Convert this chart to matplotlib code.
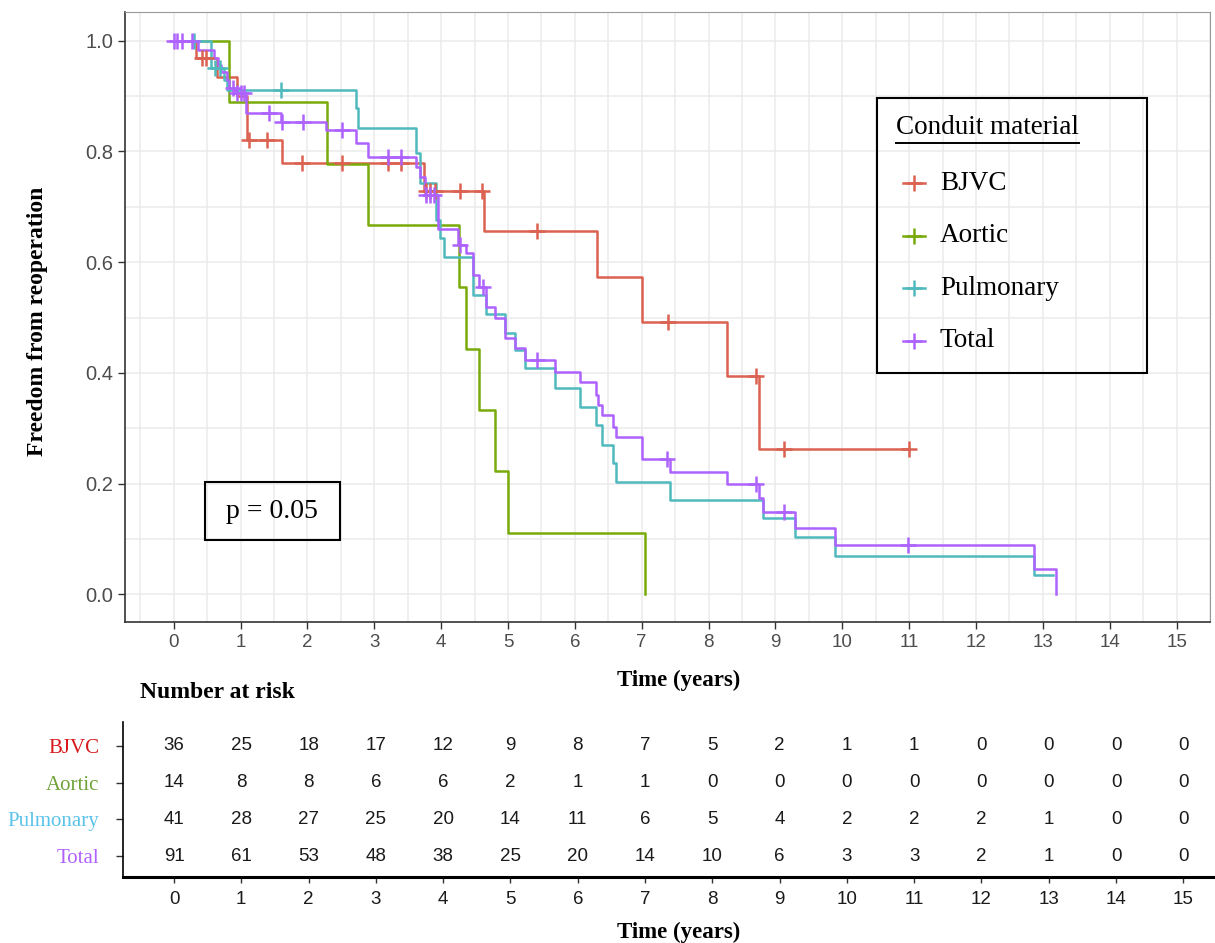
import matplotlib
matplotlib.use("Agg")
import matplotlib.pyplot as plt
import numpy as np
from matplotlib.lines import Line2D
from matplotlib.patches import Rectangle

W, H = 1215, 943

# ---- Kaplan-Meier curves (step times / survival after each step) ----
bjvc_t = [0, 0.34, 0.65, 0.95, 1.1, 1.62, 3.75, 4.64, 6.33, 7.0, 8.28, 8.76]
bjvc_s = [1.0, 0.969, 0.935, 0.90, 0.82, 0.78, 0.729, 0.656, 0.574, 0.492, 0.394, 0.263]
bjvc_end = 11.0
bjvc_cens = [0.42, 0.49, 1.13, 1.4, 1.92, 2.51, 3.21, 3.4, 3.78, 3.84, 3.91, 4.28,
             4.61, 5.44, 7.39, 8.71, 9.13, 11.0]

aortic_t = [0, 0.83, 2.3, 2.9, 4.27, 4.37, 4.56, 4.8, 5.0, 7.05]
aortic_s = [1.0, 0.889, 0.778, 0.667, 0.556, 0.444, 0.333, 0.222, 0.111, 0.0]
aortic_end = 7.05
aortic_cens = []

pulm_t = [0, 0.56, 0.75, 0.8, 2.72, 2.76, 3.63, 3.69, 3.93, 3.98, 4.05, 4.47, 4.67,
          4.95, 5.11, 5.25, 5.71, 6.08, 6.31, 6.4, 6.57, 6.62, 7.42, 8.81, 9.3, 9.89, 12.87]
pulm_s = [1.0, 0.95, 0.93, 0.911, 0.879, 0.843, 0.797, 0.743, 0.676, 0.644, 0.609, 0.541,
          0.506, 0.472, 0.441, 0.408, 0.372, 0.338, 0.306, 0.27, 0.237, 0.203, 0.17,
          0.137, 0.103, 0.069, 0.035]
pulm_end = 13.15
pulm_cens = [0.31, 0.62, 0.7, 1.6]

total_t = [0, 0.36, 0.61, 0.66, 0.71, 0.79, 0.83, 0.92, 1.08, 1.6, 2.28, 2.72, 2.91,
           3.63, 3.69, 3.76, 3.95, 4.25, 4.37, 4.47, 4.57, 4.67, 4.8, 4.95, 5.11, 5.25,
           5.71, 6.08, 6.31, 6.35, 6.4, 6.57, 6.62, 7.0, 7.42, 8.28, 8.76, 8.81, 9.3,
           9.89, 12.87, 13.2]
total_s = [1.0, 0.984, 0.969, 0.957, 0.944, 0.929, 0.915, 0.906, 0.87, 0.853, 0.839,
           0.815, 0.79, 0.772, 0.754, 0.722, 0.66, 0.631, 0.617, 0.577, 0.555, 0.519,
           0.5, 0.463, 0.445, 0.423, 0.402, 0.384, 0.36, 0.342, 0.324, 0.302, 0.284,
           0.244, 0.221, 0.199, 0.174, 0.148, 0.119, 0.089, 0.045, 0.0]
total_end = 13.2
total_cens = [0.0, 0.05, 0.12, 0.28, 0.88, 0.95, 1.0, 1.05, 1.42, 1.62, 1.93, 2.51,
              3.21, 3.4, 3.78, 3.84, 3.9, 4.28, 4.62, 5.44, 7.38, 8.71, 9.13, 10.99]

groups = ["BJVC", "Aortic", "Pulmonary", "Total"]
line_colors = ["#DB6150", "#79AA0A", "#4FB9BE", "#AE62FF"]
label_colors = ["#D7191C", "#6FA33A", "#5BC3EA", "#B161FF"]

# ---- number at risk ----
risk_times = list(range(16))
risk_bjvc = [36, 25, 18, 17, 12, 9, 8, 7, 5, 2, 1, 1, 0, 0, 0, 0]
risk_aortic = [14, 8, 8, 6, 6, 2, 1, 1, 0, 0, 0, 0, 0, 0, 0, 0]
risk_pulm = [41, 28, 27, 25, 20, 14, 11, 6, 5, 4, 2, 2, 2, 1, 0, 0]
risk_total = [91, 61, 53, 48, 38, 25, 20, 14, 10, 6, 3, 3, 2, 1, 0, 0]

p_text = "p = 0.05"

SERIF = ["Liberation Serif", "DejaVu Serif"]
SANS = ["Liberation Sans", "DejaVu Sans"]
XLIM = (-0.758, 15.47)


def fx(px):
    return px / W


def fy(py):
    return 1 - py / H


def desenhar_curva(ax, t, s, end, cens, cor):
    tt = np.append(t, end)
    ss = np.append(s, s[-1])
    ax.step(tt, ss, where="post", color=cor, lw=1.8, zorder=3)
    if len(cens):
        idx = np.searchsorted(t, cens, side="right") - 1
        ax.plot(cens, np.asarray(s)[idx], ls="none", marker="+", ms=11, mew=1.8,
                color=cor, zorder=4)


fig = plt.figure(figsize=(W / 100, H / 100), dpi=100)

# ---------- main KM panel ----------
ax = fig.add_axes([fx(125), fy(622), fx(1210) - fx(125), fy(12) - fy(622)])
ax.set_xlim(XLIM[0] + (125 - 123) / 67.27, 15.40)
ax.set_ylim(-0.05, 1.052)
ax.set_xticks(np.arange(0, 16, 1))
ax.set_xticks(np.arange(-0.5, 15.6, 0.5), minor=True)
ax.set_yticks(np.arange(0, 1.01, 0.2))
ax.set_yticks(np.arange(0, 1.05, 0.1), minor=True)
ax.set_yticklabels([f"{v:.1f}" for v in np.arange(0, 1.01, 0.2)])
ax.grid(which="both", color="#EBEBEB", lw=1.1, zorder=0)
ax.set_axisbelow(True)
ax.tick_params(which="minor", length=0)
ax.tick_params(axis="y", which="major", labelsize=14.5)
ax.tick_params(axis="x", which="major", labelsize=13.5)
ax.tick_params(which="major", length=5, width=1, color="#333333", labelcolor="#4D4D4D")
for lab in ax.get_xticklabels() + ax.get_yticklabels():
    lab.set_family(SANS)
for side in ["top", "right"]:
    ax.spines[side].set_color("#9A9A9A")
for side in ["left", "bottom"]:
    ax.spines[side].set_color("#333333")
    ax.spines[side].set_linewidth(1.2)

series = [
    (bjvc_t, bjvc_s, bjvc_end, bjvc_cens),
    (aortic_t, aortic_s, aortic_end, aortic_cens),
    (pulm_t, pulm_s, pulm_end, pulm_cens),
    (total_t, total_s, total_end, total_cens),
]
for (t, s, end, cens), cor in zip(series, line_colors):
    desenhar_curva(ax, t, s, end, cens, cor)

fig.text(fx(679), fy(680), "Time (years)", ha="center", va="center",
         fontsize=16.5, fontweight="bold", family=SERIF)
fig.text(fx(38), fy(321), "Freedom from reoperation", ha="center", va="center",
         rotation=90, fontsize=17, fontweight="bold", family=SERIF)

# p-value box
fig.add_artist(Rectangle((fx(205), fy(540)), fx(340) - fx(205), fy(482) - fy(540),
                         transform=fig.transFigure, fill=False, ec="black", lw=1.5))
fig.text(fx(272), fy(511), p_text, ha="center", va="center", fontsize=20, family=SERIF)

# legend (drawn by hand to keep the wide box)
fig.add_artist(Rectangle((fx(877), fy(373)), fx(1147) - fx(877), fy(98) - fy(373),
                         transform=fig.transFigure, fill=False, ec="black", lw=1.5))
titulo = fig.text(fx(896), fy(127), "Conduit material", ha="left", va="center",
                  fontsize=19.5, family=SERIF)
for i, (nome, cor) in enumerate(zip(groups, line_colors)):
    yy = fy(183 + i * 52.5)
    fig.add_artist(Line2D([fx(903), fx(925)], [yy, yy], transform=fig.transFigure,
                          color=cor, lw=1.8))
    fig.add_artist(Line2D([fx(914)], [yy], transform=fig.transFigure, color=cor,
                          marker="+", ms=11, mew=1.8))
    fig.text(fx(940), yy, nome, ha="left", va="center", fontsize=19.5, family=SERIF)

# ---------- number at risk table ----------
tab = fig.add_axes([fx(123), fy(877), fx(1215) - fx(123), fy(722) - fy(877)])
tab.set_xlim(*XLIM)
tab.set_ylim(0.43, 4.65)
rows = [risk_bjvc, risk_aortic, risk_pulm, risk_total]
for i, valores in enumerate(rows):
    yrow = 4 - i
    for t, v in zip(risk_times, valores):
        tab.text(t, yrow, str(v), ha="center", va="center", fontsize=13.5,
                 family=SANS, color="#1A1A1A")
tab.set_yticks([4, 3, 2, 1])
tab.set_yticklabels(groups, family=SERIF, fontsize=15)
for lab, cor in zip(tab.get_yticklabels(), label_colors):
    lab.set_color(cor)
tab.set_xticks(risk_times)
tab.set_xticklabels([str(t) for t in risk_times], family=SANS, fontsize=13.5,
                    color="#1A1A1A")
tab.tick_params(axis="y", length=5, width=1, color="#333333", pad=12)
tab.tick_params(axis="x", length=4, width=1, color="#333333", pad=6)
tab.spines["top"].set_visible(False)
tab.spines["right"].set_visible(False)
tab.spines["left"].set_linewidth(1.2)
tab.spines["bottom"].set_linewidth(2.2)

fig.text(fx(140), fy(693), "Number at risk", ha="left", va="center",
         fontsize=17, fontweight="bold", family=SERIF)
fig.text(fx(679), fy(932), "Time (years)", ha="center", va="center",
         fontsize=16.5, fontweight="bold", family=SERIF)

# underline for the legend title
fig.canvas.draw()
bb = titulo.get_window_extent(fig.canvas.get_renderer())
y_line = (bb.y0 - 3) / fig.bbox.height
fig.add_artist(Line2D([bb.x0 / fig.bbox.width, bb.x1 / fig.bbox.width],
                      [y_line, y_line], transform=fig.transFigure,
                      color="black", lw=1.4))

fig.savefig("out.png", dpi=100)
